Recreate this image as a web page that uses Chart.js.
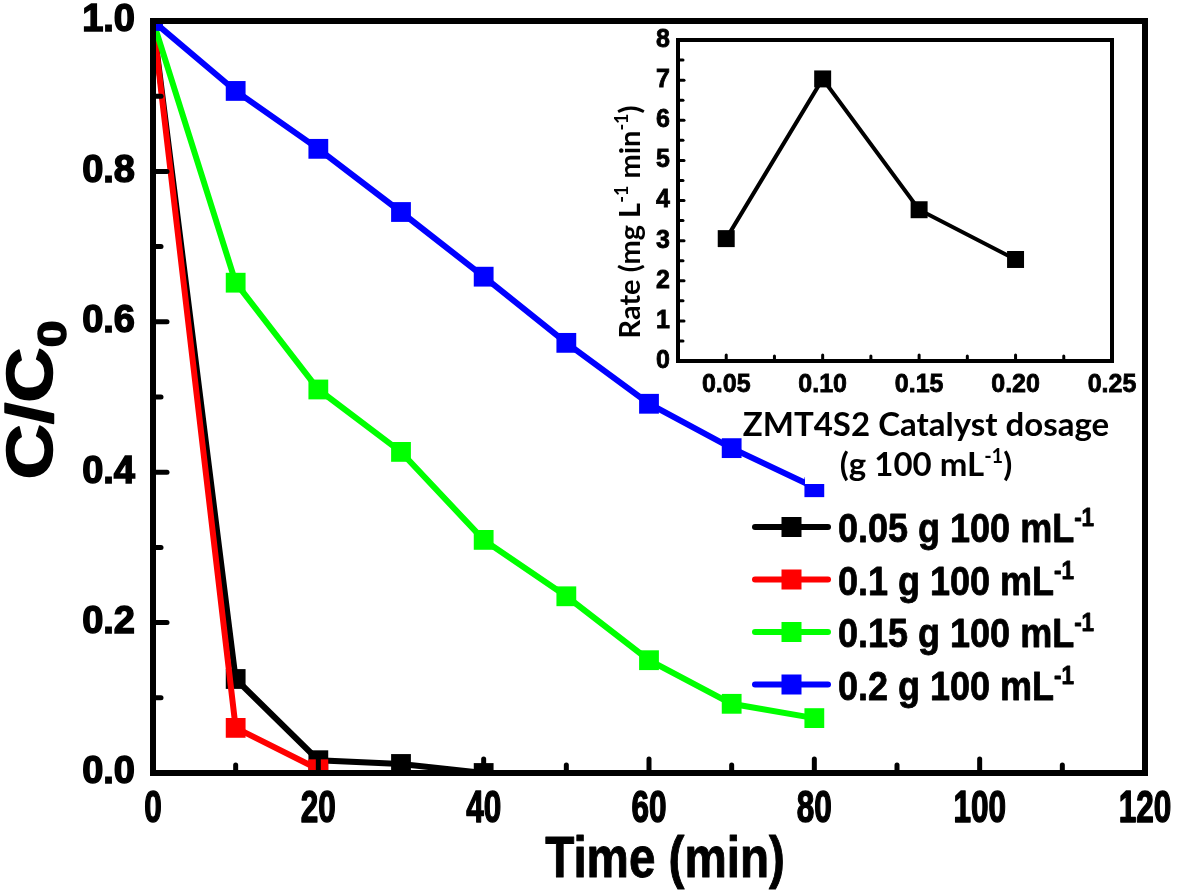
<!DOCTYPE html>
<html>
<head>
<meta charset="utf-8">
<script src="https://cdn.jsdelivr.net/npm/chart.js@4.4.1/dist/chart.umd.min.js"></script>
<style>
    html, body { margin: 0; padding: 0; background: #fff; }
    #wrap { position: relative; width: 1180px; height: 896px; }
    #main { position: absolute; left: 0; top: 0; }
    #inset { position: absolute; left: 560px; top: 20px; }
</style>
</head>
<body>
<div id="wrap">
    <canvas id="main" width="1180" height="896"></canvas>
    <canvas id="inset" width="600" height="480"></canvas>
</div>
<script>
// Series of the main plot (C/C0 against time)
const seriesLabels = ['0.05 g 100 mL^{-1}', '0.1 g 100 mL^{-1}', '0.15 g 100 mL^{-1}', '0.2 g 100 mL^{-1}'];
const seriesColors = ['#000000', '#ff0000', '#00ff00', '#0000ff'];
const timeBlack = [0, 10, 20, 30, 40];
const ratioBlack = [1.0, 0.125, 0.017, 0.012, 0.0];
const timeRed = [0, 10, 20];
const ratioRed = [1.0, 0.06, 0.005];
const timeLong = [0, 10, 20, 30, 40, 50, 60, 70, 80];
const ratioGreen = [1.0, 0.652, 0.51, 0.427, 0.31, 0.235, 0.15, 0.092, 0.073];
const ratioBlue = [1.0, 0.907, 0.83, 0.746, 0.66, 0.572, 0.491, 0.432, 0.38];
const timeTicks = [0, 20, 40, 60, 80, 100, 120];
const ratioTicks = [0, 0.2, 0.4, 0.6, 0.8, 1.0];

// Inset (rate against catalyst dosage)
const dosage = [0.05, 0.10, 0.15, 0.20];
const rate = [3.05, 7.03, 3.77, 2.53];
const dosageTicks = [0.05, 0.10, 0.15, 0.20, 0.25];
const rateTicks = [0, 1, 2, 3, 4, 5, 6, 7, 8];

const SANS = "'Liberation Sans', Arial, sans-serif";
const CALIBRI = "Lato, 'Open Sans', sans-serif";

// text with ^{..} superscripts and _{..} subscripts, sx = horizontal squeeze
function drawRich(ctx, str, x, y, size, family, align, sx, stroke) {
    const runs = [];
    const re = /(\^|_)\{([^}]*)\}/g;
    let last = 0, m;
    while ((m = re.exec(str)) !== null) {
        if (m.index > last) runs.push({ t: str.slice(last, m.index), k: 'n' });
        runs.push({ t: m[2], k: m[1] === '^' ? 'sup' : 'sub' });
        last = re.lastIndex;
    }
    if (last < str.length) runs.push({ t: str.slice(last), k: 'n' });
    const small = Math.round(size * 0.62);
    let total = 0;
    runs.forEach(r => {
        ctx.font = 'bold ' + (r.k === 'n' ? size : small) + 'px ' + family;
        r.w = ctx.measureText(r.t).width;
        total += r.w;
    });
    ctx.save();
    ctx.translate(x, y);
    ctx.scale(sx || 1, 1);
    let cx = align === 'center' ? -total / 2 : 0;
    ctx.textAlign = 'left';
    ctx.textBaseline = 'alphabetic';
    ctx.strokeStyle = ctx.fillStyle;
    ctx.lineWidth = stroke || 0;
    ctx.lineJoin = 'round';
    runs.forEach(r => {
        ctx.font = 'bold ' + (r.k === 'n' ? size : small) + 'px ' + family;
        let dy = 0;
        if (r.k === 'sup') dy = -size * 0.4;
        if (r.k === 'sub') dy = size * 0.22;
        ctx.fillText(r.t, cx, dy);
        if (stroke) ctx.strokeText(r.t, cx, dy);
        cx += r.w;
    });
    ctx.restore();
}

function tickRange(from, to, step) {
    const out = [];
    for (let v = from; v <= to + 1e-9; v += step) out.push(v);
    return out;
}

function noPad(s) {
    s.paddingLeft = s.paddingRight = s.paddingTop = s.paddingBottom = 0;
}

// white masks, inward ticks, frame, custom labels, titles and legend
const decorPlugin = {
    id: 'decor',
    afterDatasetsDraw(chart, args, o) {
        const { ctx, chartArea: a, scales: { x, y } } = chart;
        ctx.save();
        ctx.fillStyle = '#fff';
        (o.masks || []).forEach(r => ctx.fillRect(r[0], r[1], r[2], r[3]));
        ctx.strokeStyle = '#000';
        ctx.lineCap = 'round';
        ctx.lineWidth = o.tickWidth;
        const drawX = (vals, len) => vals.forEach(v => {
            const px = x.getPixelForValue(v);
            ctx.beginPath(); ctx.moveTo(px, a.bottom); ctx.lineTo(px, a.bottom - len); ctx.stroke();
        });
        const drawY = (vals, len) => vals.forEach(v => {
            const py = y.getPixelForValue(v);
            ctx.beginPath(); ctx.moveTo(a.left, py); ctx.lineTo(a.left + len, py); ctx.stroke();
        });
        drawX(o.xMinor, o.minorLen); drawX(o.xMajor, o.majorLen);
        drawY(o.yMinor, o.minorLen); drawY(o.yMajor, o.majorLen);
        ctx.lineCap = 'butt';
        ctx.lineWidth = o.frameWidth;
        ctx.strokeRect(a.left, a.top, a.right - a.left, a.bottom - a.top);
        ctx.restore();
    },
    afterDraw(chart, args, o) {
        const { ctx, chartArea: a, scales: { x } } = chart;
        ctx.save();
        ctx.fillStyle = '#000';
        if (o.xLabels) {
            const X = o.xLabels;
            x.ticks.forEach(t => {
                drawRich(ctx, String(t.value), x.getPixelForValue(t.value), a.bottom + X.offset,
                         X.size, SANS, 'center', X.sx, X.stroke);
            });
        }
        o.titles.forEach(t => {
            ctx.save();
            ctx.translate(t.x, t.y);
            if (t.rotate) ctx.rotate(-Math.PI / 2);
            drawRich(ctx, t.text, 0, 0, t.size, t.family, 'center', t.sx, t.stroke);
            ctx.restore();
        });
        if (o.legend) {
            const L = o.legend;
            chart.data.datasets.forEach((ds, i) => {
                const cy = L.y + i * L.gap;
                ctx.strokeStyle = ds.borderColor;
                ctx.lineWidth = ds.borderWidth;
                ctx.lineCap = 'round';
                ctx.beginPath(); ctx.moveTo(L.x, cy); ctx.lineTo(L.x + L.len, cy); ctx.stroke();
                ctx.fillStyle = ds.borderColor;
                ctx.fillRect(L.x + L.len / 2 - 10, cy - 10, 20, 20);
                ctx.fillStyle = '#000';
                drawRich(ctx, ds.label, L.x + L.len + 10, cy + 15, L.size, SANS, 'left', L.sx, 0.8);
            });
        }
        ctx.restore();
    }
};

function series(i, xs, ys, order) {
    return {
        label: seriesLabels[i],
        data: xs.map((v, k) => ({ x: v, y: ys[k] })),
        borderColor: seriesColors[i],
        backgroundColor: seriesColors[i],
        borderWidth: 6,
        pointStyle: 'rect',
        pointRadius: 14,
        pointBorderWidth: 0,
        tension: 0,
        order: order
    };
}

new Chart(document.getElementById('main'), {
    type: 'line',
    data: {
        datasets: [
            series(0, timeBlack, ratioBlack, 4),
            series(1, timeRed, ratioRed, 3),
            series(2, timeLong, ratioGreen, 2),
            series(3, timeLong, ratioBlue, 1)
        ]
    },
    options: {
        responsive: false,
        animation: false,
        layout: { padding: { top: 21, right: 35, left: 0, bottom: 0 } },
        plugins: {
            legend: { display: false },
            tooltip: { enabled: false },
            decor: {
                tickWidth: 5, majorLen: 14, minorLen: 8, frameWidth: 6,
                xMajor: timeTicks, xMinor: tickRange(10, 110, 20),
                yMajor: ratioTicks, yMinor: tickRange(0.1, 0.9, 0.2),
                masks: [[805, 400, 333, 84], [748, 500, 387, 202]],
                xLabels: { size: 45, sx: 0.7, offset: 49, stroke: 1.5 },
                titles: [
                    { text: 'Time (min)', x: 665, y: 877, size: 58, family: SANS, sx: 0.82, stroke: 1 },
                    { text: 'C/C_{0}', x: 52, y: 400, size: 64, family: SANS, sx: 1.2, stroke: 1.5, rotate: true }
                ],
                legend: { x: 755, y: 527, gap: 52.5, len: 73, size: 40, sx: 0.9 }
            }
        },
        scales: {
            x: {
                type: 'linear', min: 0, max: 120,
                afterBuildTicks: s => { s.ticks = timeTicks.map(v => ({ value: v })); },
                afterFit: s => { s.height = 123; noPad(s); },
                grid: { display: false, drawTicks: false },
                border: { display: false },
                ticks: { display: false }
            },
            y: {
                min: 0, max: 1,
                afterBuildTicks: s => { s.ticks = ratioTicks.map(v => ({ value: v })); },
                afterFit: s => { s.width = 153; noPad(s); },
                grid: { display: false, drawTicks: false },
                border: { display: false },
                ticks: { color: '#000', padding: 18, callback: v => v.toFixed(1),
                         textStrokeColor: '#000', textStrokeWidth: 1.5,
                         font: { family: SANS, size: 38, weight: 'bold' } }
            }
        }
    },
    plugins: [decorPlugin]
});

new Chart(document.getElementById('inset'), {
    type: 'line',
    data: {
        datasets: [{
            label: 'Rate',
            data: dosage.map((v, k) => ({ x: v, y: rate[k] })),
            borderColor: '#000',
            backgroundColor: '#000',
            borderWidth: 4,
            pointStyle: 'rect',
            pointRadius: 12,
            pointBorderWidth: 0,
            tension: 0
        }]
    },
    options: {
        responsive: false,
        animation: false,
        layout: { padding: { top: 20, right: 48, left: 0, bottom: 0 } },
        plugins: {
            legend: { display: false },
            tooltip: { enabled: false },
            decor: {
                tickWidth: 3, majorLen: 6, minorLen: 5, frameWidth: 4,
                xMajor: dosageTicks, xMinor: tickRange(0.075, 0.225, 0.05),
                yMajor: rateTicks, yMinor: tickRange(0.5, 7.5, 1),
                titles: [
                    { text: 'Rate (mg L^{-1} min^{-1})', x: 80, y: 202, size: 29, family: CALIBRI, rotate: true },
                    { text: 'ZMT4S2 Catalyst dosage', x: 366, y: 416, size: 33, family: CALIBRI },
                    { text: '(g 100 mL^{-1})', x: 366, y: 456, size: 33, family: CALIBRI }
                ]
            }
        },
        scales: {
            x: {
                type: 'linear', min: 0.025, max: 0.25,
                afterBuildTicks: s => { s.ticks = dosageTicks.map(v => ({ value: v })); },
                afterFit: s => { s.height = 139; noPad(s); },
                grid: { display: false, drawTicks: false },
                border: { display: false },
                ticks: { color: '#000', padding: 9, maxRotation: 0, autoSkip: false,
                         callback: v => v.toFixed(2),
                         textStrokeColor: '#000', textStrokeWidth: 0.8,
                         font: { family: SANS, size: 25, weight: 'bold' } }
            },
            y: {
                min: 0, max: 8,
                afterBuildTicks: s => { s.ticks = rateTicks.map(v => ({ value: v })); },
                afterFit: s => { s.width = 118; noPad(s); },
                grid: { display: false, drawTicks: false },
                border: { display: false },
                ticks: { color: '#000', padding: 8,
                         textStrokeColor: '#000', textStrokeWidth: 0.8,
                         font: { family: SANS, size: 25, weight: 'bold' } }
            }
        }
    },
    plugins: [decorPlugin]
});
</script>
</body>
</html>
